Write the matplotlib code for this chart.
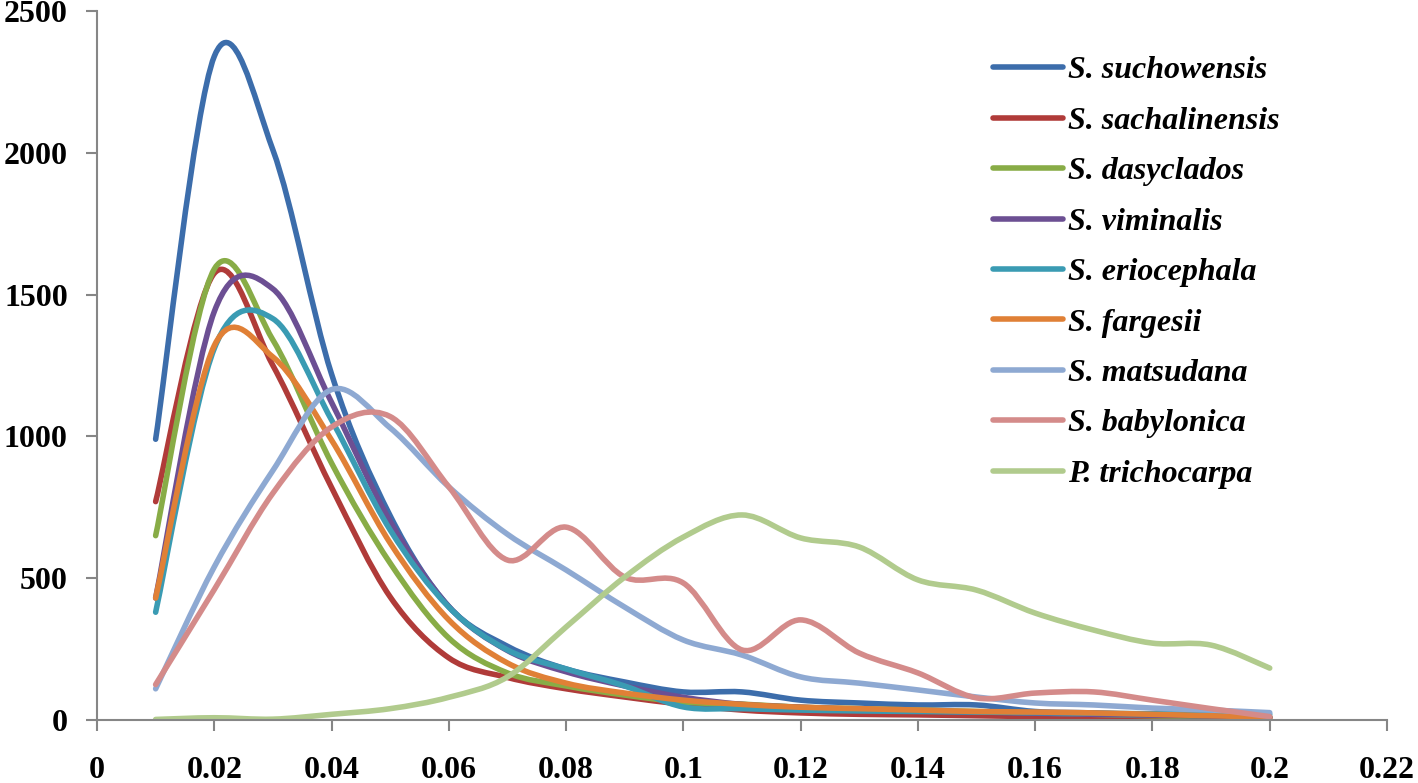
import numpy as np
import matplotlib
matplotlib.use('Agg')
from matplotlib import pyplot as plt
from matplotlib.path import Path
from matplotlib.patches import PathPatch
from matplotlib.lines import Line2D

# x: 0.01 ... 0.20
x = [0.01, 0.02, 0.03, 0.04, 0.05, 0.06, 0.07, 0.08, 0.09, 0.10,
     0.11, 0.12, 0.13, 0.14, 0.15, 0.16, 0.17, 0.18, 0.19, 0.20]

names = ['S. suchowensis', 'S. sachalinensis', 'S. dasyclados', 'S. viminalis',
         'S. eriocephala', 'S. fargesii', 'S. matsudana', 'S. babylonica',
         'P. trichocarpa']

suchowensis = [990, 2340, 2010, 1220, 720, 400, 260, 180, 134, 99,
               99, 70, 60, 53, 53, 30, 25, 18, 14, 10]
sachalinensis = [770, 1575, 1250, 820, 434, 219, 150, 110, 81, 55,
                 35, 25, 20, 18, 15, 12, 10, 8, 6, 5]
dasyclados = [650, 1590, 1340, 906, 553, 289, 166, 120, 88, 63,
              56, 45, 40, 35, 30, 25, 20, 15, 12, 10]
viminalis = [430, 1440, 1520, 1120, 700, 400, 245, 170, 120, 80,
             55, 45, 38, 32, 28, 24, 20, 17, 14, 10]
eriocephala = [380, 1310, 1415, 1058, 670, 398, 247, 180, 120, 46,
               40, 35, 32, 30, 28, 26, 24, 22, 21, 20]
fargesii = [430, 1320, 1280, 987, 624, 353, 201, 130, 95, 70,
            55, 45, 40, 35, 30, 28, 25, 20, 15, 10]
matsudana = [110, 540, 880, 1165, 1030, 822, 655, 529, 398, 282,
             229, 152, 130, 106, 81, 60, 53, 42, 35, 26]
babylonica = [125, 460, 800, 1033, 1070, 822, 564, 680, 504, 483,
              247, 353, 236, 166, 78, 95, 99, 70, 40, 12]
trichocarpa = [2, 8, 3, 20, 40, 80, 152, 328, 504, 645,
               723, 642, 610, 494, 458, 377, 317, 271, 264, 183]

series = [suchowensis, sachalinensis, dasyclados, viminalis, eriocephala,
          fargesii, matsudana, babylonica, trichocarpa]
colors = ['#3c6dab', '#b03b39', '#88ac46', '#6c4f93', '#3a9bb3',
          '#e08036', '#8ea9d2', '#d48b8a', '#b1cb8d']


def smooth_path(xs, ys):
    # bezier segments like the excel "smoothed line"
    xs = np.asarray(xs, float)
    ys = np.asarray(ys, float)
    n = len(xs)
    verts = [(xs[0], ys[0])]
    codes = [Path.MOVETO]
    for i in range(n - 1):
        a = max(i - 1, 0)
        b = min(i + 2, n - 1)
        c1 = (xs[i] + (xs[i + 1] - xs[a]) / 6, ys[i] + (ys[i + 1] - ys[a]) / 6)
        c2 = (xs[i + 1] - (xs[b] - xs[i]) / 6, ys[i + 1] - (ys[b] - ys[i]) / 6)
        verts += [c1, c2, (xs[i + 1], ys[i + 1])]
        codes += [Path.CURVE4] * 3
    return Path(verts, codes)


plt.rcParams['font.family'] = 'Liberation Serif'
plt.rcParams['font.weight'] = 'bold'

fig = plt.figure(figsize=(14.18, 7.83), dpi=100)
ax = fig.add_axes([97 / 1418, 1 - 720 / 783, (1387 - 97) / 1418, (720 - 11) / 783])

for ys, c in zip(series, colors):
    ax.add_patch(PathPatch(smooth_path(x, ys), fill=False, edgecolor=c,
                           lw=4, capstyle='round', joinstyle='round'))

ax.set_xlim(0, 0.22)
ax.set_ylim(0, 2500)
ax.set_xticks(np.arange(0, 0.221, 0.02))
ax.set_xticklabels(['0', '0.02', '0.04', '0.06', '0.08', '0.1', '0.12',
                    '0.14', '0.16', '0.18', '0.2', '0.22'])
ax.set_yticks([0, 500, 1000, 1500, 2000, 2500])

for s in ['top', 'right']:
    ax.spines[s].set_visible(False)
for s in ['left', 'bottom']:
    ax.spines[s].set_color('#868686')
    ax.spines[s].set_linewidth(1.5)
ax.tick_params(axis='both', direction='out', length=8, width=1.5,
               color='#868686', labelsize=23)
ax.tick_params(axis='y', pad=13)
ax.tick_params(axis='x', pad=18)

handles = [Line2D([], [], color=c, lw=4, solid_capstyle='round') for c in colors]
ax.legend(handles, names, loc='upper left', frameon=False,
          bbox_to_anchor=(993 / 1418, 1 - 56 / 783), bbox_transform=fig.transFigure,
          borderpad=0, borderaxespad=0, handlelength=2.2, handletextpad=0.15,
          labelspacing=0.66, prop={'family': 'Liberation Serif', 'weight': 'bold',
                                   'style': 'italic', 'size': 23})

plt.savefig('out.png', dpi=100)
